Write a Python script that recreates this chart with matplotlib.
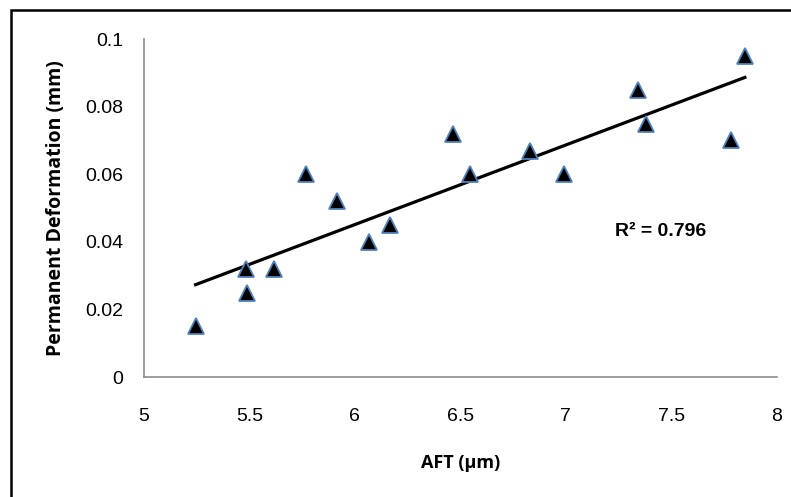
import numpy as np
import matplotlib.pyplot as plt
from matplotlib.patches import Rectangle

# data
aft = [5.245, 5.483, 5.49, 5.617, 5.767, 5.917, 6.068, 6.166,
       6.463, 6.546, 6.83, 6.989, 7.341, 7.378, 7.781, 7.849]
deform = [0.015, 0.032, 0.025, 0.032, 0.060, 0.052, 0.040, 0.045,
          0.072, 0.060, 0.067, 0.060, 0.085, 0.075, 0.070, 0.095]
x_ticks = [5, 5.5, 6, 6.5, 7, 7.5, 8]
y_ticks = [0, 0.02, 0.04, 0.06, 0.08, 0.1]
x_tick_labels = ["5", "5.5", "6", "6.5", "7", "7.5", "8"]
y_tick_labels = ["0", "0.02", "0.04", "0.06", "0.08", "0.1"]

plt.rcParams["font.family"] = ["Liberation Sans", "DejaVu Sans"]

fig = plt.figure(figsize=(7.91, 4.97), dpi=100)
ax = fig.add_axes([0.182, 0.2414, 0.8, 0.68])

# outer chart frame (only top/left visible in the crop)
fig.patches.append(Rectangle((11 / 791, -0.1), 1.2, 1.1 - 10 / 497,
                             transform=fig.transFigure, fill=False,
                             edgecolor="black", linewidth=1.8))

# linear trend line
slope, icpt = np.polyfit(aft, deform, 1)
xs = np.array([min(aft), max(aft)])
ax.plot(xs, slope * xs + icpt, color="black", linewidth=2.3, zorder=2)

ax.plot(aft, deform, linestyle="none", marker="^", markersize=11,
        markerfacecolor="black", markeredgecolor="#4f81bd",
        markeredgewidth=1.3, zorder=3)

ax.text(7.45, 0.0432, "R² = 0.796", ha="center", va="center",
        fontsize=14, fontweight="bold")

ax.set_xlim(5, 8)
ax.set_ylim(0, 0.1)
ax.set_xticks(x_ticks)
ax.set_xticklabels(x_tick_labels)
ax.set_yticks(y_ticks)
ax.set_yticklabels(y_tick_labels)
ax.tick_params(axis="both", length=0, labelsize=14)
ax.tick_params(axis="y", pad=15)
ax.tick_params(axis="x", pad=22)

for side in ["top", "right"]:
    ax.spines[side].set_visible(False)
for side in ["left", "bottom"]:
    ax.spines[side].set_color("#8c8c8c")
    ax.spines[side].set_linewidth(1.2)

ax.set_xlabel("AFT (µm)", fontsize=13, fontweight="bold",
              family=["Open Sans", "DejaVu Sans"], labelpad=21)
ax.set_ylabel("Permanent Deformation (mm)", fontsize=14, fontweight="bold",
              family=["Open Sans", "DejaVu Sans"], labelpad=14)

fig.savefig("out.png", dpi=100)
